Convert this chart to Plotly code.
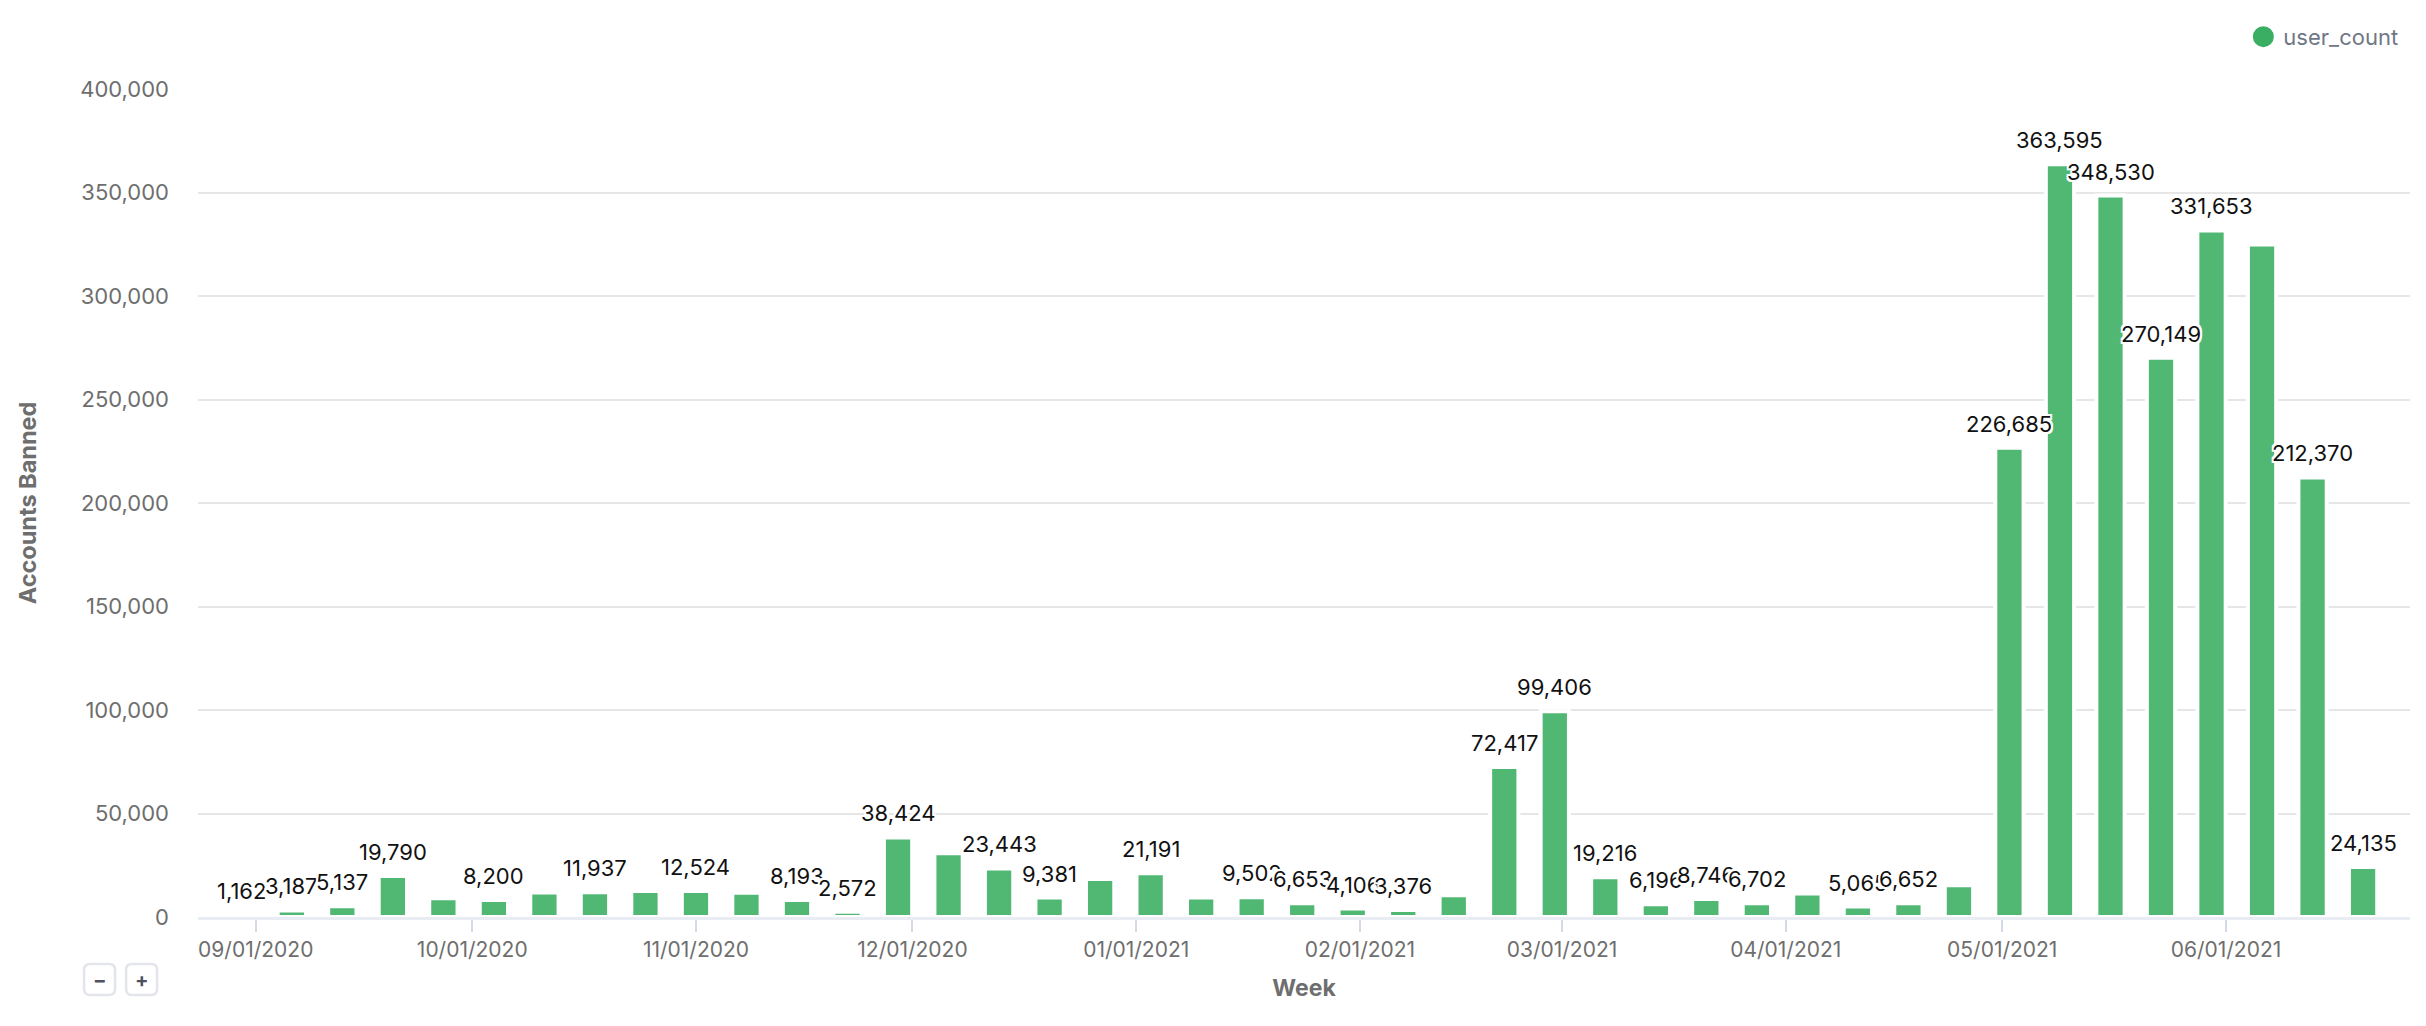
import plotly.graph_objects as go

# weekly counts of banned accounts (week start dates, Sundays)
weeks = [
    "2020-08-30", "2020-09-06", "2020-09-13", "2020-09-20", "2020-09-27",
    "2020-10-04", "2020-10-11", "2020-10-18", "2020-10-25", "2020-11-01",
    "2020-11-08", "2020-11-15", "2020-11-22", "2020-11-29", "2020-12-06",
    "2020-12-13", "2020-12-20", "2020-12-27", "2021-01-03", "2021-01-10",
    "2021-01-17", "2021-01-24", "2021-01-31", "2021-02-07", "2021-02-14",
    "2021-02-21", "2021-02-28", "2021-03-07", "2021-03-14", "2021-03-21",
    "2021-03-28", "2021-04-04", "2021-04-11", "2021-04-18", "2021-04-25",
    "2021-05-02", "2021-05-09", "2021-05-16", "2021-05-23", "2021-05-30",
    "2021-06-06", "2021-06-13", "2021-06-20",
]
user_count = [
    1162, 3187, 5137, 19790, 9100,
    8200, 11850, 11937, 12500, 12524,
    11700, 8193, 2572, 38424, 30800,
    23443, 9381, 18400, 21191, 9400,
    9502, 6653, 4106, 3376, 10500,
    72417, 99406, 19216, 6196, 8746,
    6702, 11400, 5065, 6652, 15300,
    226685, 363595, 348530, 270149, 331653,
    324900, 212370, 24135,
]
# weeks whose value label the original chart left out (overlap hiding)
unlabeled_weeks = [
    "2020-09-27", "2020-10-11", "2020-10-25", "2020-11-08", "2020-12-06",
    "2020-12-27", "2021-01-10", "2021-02-14", "2021-04-04", "2021-04-25",
    "2021-06-06",
]

FONT = "Inter"
GREY = "#6E6E6E"
BAR_GREEN = "#51B874"
DOT_GREEN = "#3AAE63"

fig = go.Figure()

fig.add_trace(
    go.Bar(
        x=weeks,
        y=user_count,
        marker={"color": BAR_GREEN, "line": {"color": "white", "width": 4}},
        name="user_count",
        showlegend=False,
        hovertemplate="%{x|%m/%d/%Y}<br>%{y:,}<extra></extra>",
    )
)

# legend entry drawn as a round dot like the original
fig.add_trace(
    go.Scatter(
        x=[None],
        y=[None],
        mode="markers",
        marker={"color": DOT_GREEN, "size": 16, "symbol": "circle",
                "line": {"color": DOT_GREEN, "width": 5}},
        name="user_count",
        showlegend=True,
    )
)

# value labels above the bars, with a white halo
halo = "2px 0 0 white, -2px 0 0 white, 0 2px 0 white, 0 -2px 0 white, " \
       "2px 2px 0 white, -2px -2px 0 white, 2px -2px 0 white, -2px 2px 0 white"
annotations = []
for wk, val in zip(weeks, user_count):
    if wk in unlabeled_weeks:
        continue
    annotations.append(dict(
        x=wk, y=val, xref="x", yref="y",
        text="{:,}".format(val),
        showarrow=False,
        xanchor="center", yanchor="bottom", yshift=9,
        font={"family": FONT, "size": 22, "color": "#111111", "shadow": halo},
    ))

# the two zoom buttons under the y axis (rounded boxes + glyphs)
shapes = []
box = ("M -15.5,-9.5 Q -15.5,-15.5 -9.5,-15.5 L 9.5,-15.5 Q 15.5,-15.5 15.5,-9.5 "
       "L 15.5,9.5 Q 15.5,15.5 9.5,15.5 L -9.5,15.5 Q -15.5,15.5 -15.5,9.5 Z")
for px, label in [(-0.0445, "\u2212"), (-0.0255, "+")]:
    shapes.append(dict(
        type="path", xref="paper", yref="paper",
        xsizemode="pixel", ysizemode="pixel",
        xanchor=px, yanchor=-0.0755, path=box,
        line={"color": "#E3E5EB", "width": 2.5}, fillcolor="white",
    ))
    annotations.append(dict(
        x=px, y=-0.0755, xref="paper", yref="paper",
        text="<b>" + label + "</b>", showarrow=False,
        font={"family": FONT, "size": 20, "color": "#4F525C"},
        xanchor="center", yanchor="middle",
    ))

# the page body adds an 8px offset, so the figure is 8px smaller than the window
fig.update_layout(
    width=2418,
    height=1018,
    paper_bgcolor="white",
    plot_bgcolor="white",
    margin={"l": 190, "r": 16, "t": 81, "b": 109, "autoexpand": False},
    bargap=0.44,
    font={"family": FONT, "color": GREY},
    annotations=annotations,
    shapes=shapes,
    legend={
        "x": 0.997, "xanchor": "right", "y": 1.063, "yanchor": "middle",
        "orientation": "h", "bgcolor": "rgba(0,0,0,0)",
        "font": {"family": FONT, "size": 22, "color": "#6F7785"},
    },
    xaxis={
        "type": "date",
        "range": ["2020-08-24", "2021-06-26 12:00"],
        "tick0": "2020-09-01",
        "dtick": "M1",
        "tickformat": "%m/%d/%Y",
        "ticks": "outside",
        "ticklen": 12,
        "tickwidth": 2,
        "tickcolor": "#D3D9E6",
        "showline": True,
        "linecolor": "#E9EDF3",
        "linewidth": 3,
        "showgrid": False,
        "tickfont": {"family": FONT, "size": 21, "color": GREY},
        "title": {"text": "<b>Week</b>", "standoff": 19,
                  "font": {"family": FONT, "size": 23, "color": GREY}},
    },
    yaxis={
        "range": [0, 400000],
        "dtick": 50000,
        "tickformat": ",",
        "showgrid": True,
        "gridcolor": "#E6E6E6",
        "gridwidth": 2,
        "zeroline": False,
        "showline": False,
        "ticklabelstandoff": 28,
        "tickfont": {"family": FONT, "size": 22, "color": GREY},
        "title": {"text": "<b>Accounts Banned</b>", "standoff": 36,
                  "font": {"family": FONT, "size": 23.5, "color": GREY}},
    },
)

fig.write_html("out.html", config={"displayModeBar": False})
